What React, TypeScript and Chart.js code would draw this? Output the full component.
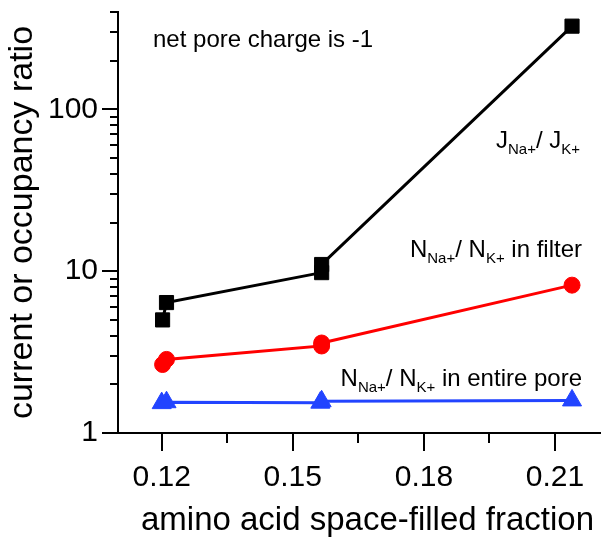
import React, { useEffect, useRef } from "react";
import { Chart, registerables } from "chart.js";

Chart.register(...registerables);

// ---- data ----
const currentX = [0.1202, 0.1211, 0.1566, 0.1566, 0.2139];
const currentY = [5.0, 6.4, 9.8, 11.0, 327];
const filterX = [0.1202, 0.1211, 0.1566, 0.1566, 0.2139];
const filterY = [2.65, 2.85, 3.45, 3.6, 8.2];
const poreX = [0.1200, 0.1211, 0.1563, 0.1566, 0.2139];
const poreY = [1.53, 1.55, 1.54, 1.57, 1.59];

const xMajorTicks = [0.12, 0.15, 0.18, 0.21];
const xMinorTicks = [0.135, 0.165, 0.195];
const yMajorTicks = [1, 10, 100];
const yMinorTicks = [2, 3, 4, 5, 6, 7, 8, 9, 20, 30, 40, 50, 60, 70, 80, 90, 200, 300, 400];

const xTitle = "amino acid space-filled fraction";
const yTitle = "current or occupancy ratio";
const noteText = "net pore charge is -1";
const labelCurrent = [
  { t: "J" }, { t: "Na+", sub: true }, { t: "/ J" }, { t: "K+", sub: true },
];
const labelFilter = [
  { t: "N" }, { t: "Na+", sub: true }, { t: "/ N" }, { t: "K+", sub: true }, { t: " in filter" },
];
const labelPore = [
  { t: "N" }, { t: "Na+", sub: true }, { t: "/ N" }, { t: "K+", sub: true }, { t: " in entire pore" },
];

const FONT = "'Liberation Sans', Arial, Helvetica, sans-serif";

function toPoints(xs: number[], ys: number[]) {
  return xs.map((x, i) => ({ x, y: ys[i] }));
}

type Part = { t: string; sub?: boolean };

function drawRich(ctx: CanvasRenderingContext2D, parts: Part[], xRight: number, baseline: number) {
  const big = `24px ${FONT}`;
  const small = `15px ${FONT}`;
  let total = 0;
  const widths = parts.map((p) => {
    ctx.font = p.sub ? small : big;
    const w = ctx.measureText(p.t).width;
    total += w;
    return w;
  });
  let x = xRight - total;
  parts.forEach((p, i) => {
    ctx.font = p.sub ? small : big;
    ctx.fillText(p.t, x, p.sub ? baseline + 6 : baseline);
    x += widths[i];
  });
}

const decorations = {
  id: "decorations",
  afterDraw(chart: any) {
    const ctx: CanvasRenderingContext2D = chart.ctx;
    const xs = chart.scales.x;
    const ys = chart.scales.y;
    const ca = chart.chartArea;
    ctx.save();
    ctx.fillStyle = "#000000";
    for (const v of xMajorTicks) {
      const px = Math.round(xs.getPixelForValue(v));
      ctx.fillRect(px - 1, ca.bottom, 2, 18);
    }
    for (const v of xMinorTicks) {
      const px = Math.round(xs.getPixelForValue(v));
      ctx.fillRect(px - 1, ca.bottom, 2, 10);
    }
    for (const v of yMajorTicks) {
      const py = Math.round(ys.getPixelForValue(v));
      ctx.fillRect(ca.left - 16, py - 1, 16, 2);
    }
    for (const v of yMinorTicks) {
      const py = Math.round(ys.getPixelForValue(v));
      ctx.fillRect(ca.left - 8, py - 1, 8, 2);
    }

    ctx.textBaseline = "alphabetic";
    ctx.textAlign = "center";
    ctx.font = `33px ${FONT}`;
    ctx.fillText(xTitle, 367.5, 530);

    ctx.textAlign = "left";
    ctx.font = `24px ${FONT}`;
    ctx.fillText(noteText, 153, 47);
    drawRich(ctx, labelCurrent, 580, 148);
    drawRich(ctx, labelFilter, 582, 257);
    drawRich(ctx, labelPore, 582, 386);
    ctx.restore();
  },
};

export default function App() {
  const ref = useRef<HTMLCanvasElement | null>(null);

  useEffect(() => {
    if (!ref.current) return;
    Chart.defaults.font.family = FONT;
    Chart.defaults.color = "#000";
    const chart = new Chart(ref.current, {
      type: "scatter",
      data: {
        datasets: [
          {
            label: "J ratio",
            data: toPoints(currentX, currentY),
            showLine: true,
            borderColor: "#000000",
            backgroundColor: "#000000",
            borderWidth: 3,
            pointStyle: "rect",
            pointRadius: 10,
            pointBorderWidth: 1,
          },
          {
            label: "N ratio filter",
            data: toPoints(filterX, filterY),
            showLine: true,
            borderColor: "#ff0000",
            backgroundColor: "#ff0000",
            borderWidth: 3,
            pointStyle: "circle",
            pointRadius: 8,
            pointBorderWidth: 1,
          },
          {
            label: "N ratio pore",
            data: toPoints(poreX, poreY),
            showLine: true,
            borderColor: "#2244ff",
            backgroundColor: "#2244ff",
            borderWidth: 3,
            pointStyle: "triangle",
            pointRadius: 11,
            pointBorderWidth: 1,
          },
        ],
      },
      options: {
        responsive: false,
        animation: false,
        layout: { padding: { top: 8, right: 6, left: 0, bottom: 0 } },
        plugins: {
          legend: { display: false },
          tooltip: { enabled: false },
        },
        scales: {
          x: {
            type: "linear",
            min: 0.11,
            max: 0.2203,
            afterBuildTicks: (scale: any) => {
              scale.ticks = xMajorTicks.map((v) => ({ value: v }));
            },
            afterFit: (scale: any) => {
              scale.height = 113;
              scale.paddingLeft = 0;
              scale.paddingRight = 0;
            },
            ticks: {
              padding: 27,
              font: { size: 30 },
              color: "#000",
              callback: (v: any) => Number(v).toFixed(2),
            },
            grid: { display: false, drawTicks: false },
            border: { display: true, color: "#000", width: 2 },
            title: { display: false, text: xTitle },
          },
          y: {
            type: "logarithmic",
            min: 1,
            max: 400,
            afterBuildTicks: (scale: any) => {
              scale.ticks = yMajorTicks.map((v) => ({ value: v }));
            },
            afterFit: (scale: any) => {
              scale.width = 118;
              scale.paddingTop = 0;
              scale.paddingBottom = 0;
            },
            ticks: {
              padding: 20,
              font: { size: 30 },
              color: "#000",
              callback: (v: any) => String(v),
            },
            grid: { display: false, drawTicks: false },
            border: { display: true, color: "#000", width: 2 },
            title: {
              display: true,
              text: yTitle,
              font: { size: 34 },
              color: "#000",
              padding: { top: 2, bottom: 0 },
            },
          },
        },
      },
      plugins: [decorations],
    });
    return () => chart.destroy();
  }, []);

  return (
    <div style={{ position: "absolute", left: 0, top: 0, width: 612, height: 546, background: "#fff" }}>
      <canvas ref={ref} width={612} height={546} />
    </div>
  );
}
